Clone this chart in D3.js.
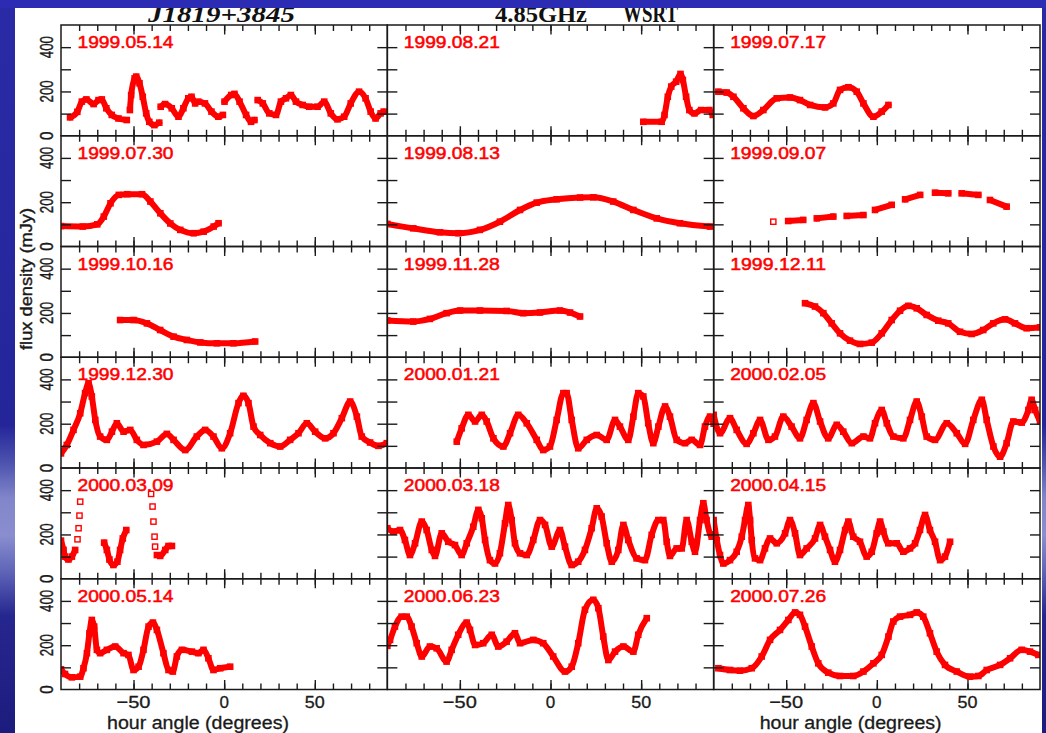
<!DOCTYPE html>
<html>
<head>
<meta charset="utf-8">
<script src="https://cdn.jsdelivr.net/npm/d3@7"></script>
<style>
  html, body { margin: 0; padding: 0; overflow: hidden; background: #fff; }
  svg { display: block; }
</style>
</head>
<body>
<svg id="chart" width="1046" height="733"></svg>
<script>
// J1819+3845 light curves at 4.85 GHz (WSRT): flux density vs hour angle.
// Each observing day is a list of segments, each segment a list of [hourAngle, fluxDensity_mJy].

const d990514 = [
  [[-85,83],[-81,108],[-78.5,154],[-76,164],[-72,143],[-69.3,161],[-67.5,164],[-65,124],[-62,94],[-58.3,78],[-53.7,71]],
  [[-52,116],[-51.3,184],[-49.4,259],[-48.5,267],[-46.7,237],[-44.9,176],[-43,101],[-41.3,63],[-38.5,48],[-35.8,59]],
  [[-35,131],[-32.6,143],[-28.9,124],[-25.2,86],[-22.5,124],[-19.8,169],[-18,176],[-16,146],[-14.3,154],[-10.6,146],[-7,109],[-3.2,86],[-0.7,94]],
  [[0.2,154],[3.9,184],[5.7,189],[8.5,154],[12.1,94],[14.8,63],[16.7,71]],
  [[18.5,161],[21.3,146],[24.9,101],[28.6,94],[31.3,154],[34.1,169],[36.8,184],[39.6,154],[43.3,139],[46.9,131],[51.5,131],[55.2,154],[58.8,101],[62.5,74],[66.2,86],[69.8,146],[74.4,199],[78,169],[80.8,109],[83.5,78],[86.3,101],[88,109]]
];
const d990821 = [
  [[51.2,63],[61.3,63],[62.9,94],[64.7,176],[66.6,222],[69.3,244],[71.7,279],[73,252],[74.8,176],[76.6,116],[79.4,101],[83.1,116],[87.6,116],[89.5,94]]
];
const d990717 = [
  [[-87.4,199],[-82.8,195],[-79.1,176],[-73.6,124],[-68.1,89],[-62.6,116],[-55.2,169],[-47.9,173],[-42.4,161],[-36.8,139],[-28.6,128],[-24,146],[-20.3,207],[-15.7,219],[-11.1,199],[-7.4,146],[-1.9,86],[2.7,109],[6.4,139]]
];
const d990730 = [
  [[-90,92],[-78,90],[-70,100],[-66.4,135],[-62.7,195],[-58.1,233],[-53.5,236],[-45.3,236],[-40.7,203],[-35.2,150],[-29.7,104],[-24.2,75],[-16.8,60],[-11.3,67],[-5.8,90],[-3.1,105]]
];
const d990813 = [
  [[-90,102],[-75.7,82],[-61,64],[-50.8,60],[-38.9,75],[-27.9,112],[-16.8,165],[-7.6,198],[3.4,213],[16.3,221],[23.6,222],[34.6,203],[45.7,165],[58.6,127],[71.4,105],[88,90]]
];
const d990907 = [
  [[-57.1,112]],
  [[-48.9,115],[-40.6,120]],
  [[-33.1,127],[-24,135]],
  [[-16.6,138],[-7.4,142]],
  [[-1,165],[8.2,188]],
  [[15.6,213],[23.9,233]],
  [[32.1,243],[39.4,240]],
  [[46.8,240],[56,233]],
  [[62.4,210],[71.6,180]]
];
const d991016 = [
  [[-57.4,168],[-50,168],[-42.6,153],[-35.3,123],[-27.9,93],[-20.6,78],[-13.2,67],[-4,63],[5.1,63],[17.1,71]]
];
const d991128 = [
  [[-90,166],[-75.7,161],[-66.5,173],[-57.3,199],[-49.9,211],[-38.9,211],[-24.2,209],[-15,199],[-5.8,202],[5.2,211],[10.8,202],[16.3,184]]
];
const d991211 = [
  [[-39.6,244],[-34.1,229],[-29.5,199],[-24.9,153],[-20.3,108],[-14.8,75],[-9.3,60],[-2.8,66],[2.7,108],[8.2,168],[12.8,210],[17.4,232],[22,221],[27.5,191],[33.9,165],[39.4,153],[45.9,115],[52.3,105],[58.7,123],[64.2,153],[70.7,171],[76.2,153],[82.7,131],[90,135]]
];
const d991230 = [
  [[-90,66],[-86.8,104],[-83.1,172],[-79.4,247],[-76.7,338],[-74.8,383],[-73,323],[-71.1,217],[-68.4,142],[-64.7,127],[-61.9,164],[-59.2,202],[-55.5,164],[-51.8,172],[-48.2,127],[-44.5,104],[-37.1,119],[-31.6,154],[-27.9,127],[-21.5,81],[-15.1,142],[-10.5,172],[-5.9,142],[-1.3,89],[3.3,157],[7.9,293],[10.6,326],[13.4,293],[16.2,187],[19.9,149],[25.4,112],[30.9,97],[36.4,127],[41,157],[45.6,202],[50.2,164],[55.7,134],[60.3,157],[64.9,225],[69.5,300],[73.2,232],[75.9,142],[80.5,115],[85.1,100],[89.7,112]]
];
const d000121 = [
  [[-51.7,119],[-49,179],[-45.3,240],[-41.6,210],[-37.9,240],[-35.2,210],[-31.5,134],[-26,97],[-22.3,157],[-17.8,240],[-13.1,202],[-7.6,127],[-4,81],[-0.3,97],[3.4,217],[7.1,338],[8.9,338],[11.7,217],[15.3,89],[20,127],[25.5,149],[31,127],[35.6,217],[38.3,187],[42.9,127],[45.7,232],[48.4,338],[51.2,323],[53.9,202],[56.7,112],[59.5,187],[63.2,278],[65.9,232],[69.6,127],[74.2,112],[77.9,127],[82.5,104],[85.2,187],[88,232],[90,200]]
];
const d000205 = [
  [[-90,240],[-86.5,157],[-81,225],[-77.3,172],[-71.8,109],[-68.1,157],[-64.4,217],[-59.8,127],[-56.2,142],[-51.6,232],[-47,187],[-42.4,134],[-38.7,217],[-35,293],[-31.3,210],[-26.8,134],[-22.1,195],[-18.5,164],[-13.8,112],[-7.4,142],[-3.8,134],[-1,202],[2.7,262],[5.5,202],[9.1,142],[14.6,134],[18.3,217],[22,300],[24.8,232],[27.5,142],[32.1,127],[38.6,202],[44.1,157],[48.7,109],[53.2,217],[57.9,308],[60.6,217],[64.3,97],[68,51],[71.6,112],[75.3,210],[79.9,205],[83.6,262],[85.4,308],[87.3,262],[90,210]]
];
const d000309 = [
  [[-90,172],[-88.6,130],[-87.8,100],[-85.9,87],[-84,100],[-82.2,130]],
  [[-80.9,178]],[[-80.3,228]],[[-79.8,285]],[[-79.4,348]],
  [[-66.2,163],[-64.7,130],[-63.3,87],[-61.1,62],[-58.9,77],[-57.4,130],[-55.9,182],[-54,220]],
  [[-40.3,383]],[[-39.5,326]],[[-39,258]],[[-38.4,190]],[[-38.1,145]],
  [[-37.1,107],[-35.3,103],[-32.5,130],[-30.7,148],[-28.8,148]]
];
const d000318 = [
  [[-90,228],[-86.7,213],[-83,220],[-80.3,175],[-77.5,107],[-74.7,160],[-71,258],[-68.3,220],[-65.5,130],[-63.7,103],[-60,205],[-56.4,167],[-52.7,152],[-49,107],[-46.2,160],[-42.6,235],[-39.8,311],[-37.9,273],[-36.1,175],[-33.4,84],[-30.6,69],[-27.9,115],[-25.1,250],[-23.3,333],[-21.4,265],[-19.6,160],[-16.8,115],[-13.1,107],[-9.5,175],[-5.8,265],[-3,243],[0.7,145],[5.2,220],[8,145],[11.7,62],[15.3,77],[19,130],[22.7,228],[25.5,318],[28.2,281],[31,160],[33.8,77],[37.4,130],[40.2,243],[42.9,175],[47.5,92],[52.1,84],[55.8,198],[59.5,265],[62.2,265],[64.1,167],[65.9,103],[69.6,137],[72.4,137],[75.1,265],[77.9,167],[79.7,122],[82.5,265],[84.3,341],[86.1,265],[88.9,190],[90,200]]
];
const d000415 = [
  [[-90,265],[-88.3,175],[-86.5,107],[-84.7,69],[-81,84],[-77.3,122],[-74.5,190],[-72.7,265],[-70.9,333],[-69.9,265],[-69,175],[-67.2,92],[-64.4,84],[-61.7,137],[-58.9,182],[-55.2,160],[-50.6,205],[-47.9,265],[-45.1,205],[-42.4,107],[-38.7,137],[-34.1,182],[-31.3,243],[-28.6,190],[-25.8,130],[-23.1,77],[-20.3,130],[-17.5,220],[-15.7,258],[-13,190],[-9.3,167],[-5.6,100],[-2.8,122],[-0.1,205],[1.8,258],[3.6,213],[6.3,160],[11,160],[14.6,122],[18.3,137],[21.1,160],[23.8,220],[26.6,288],[29.3,220],[32.1,167],[34.9,84],[37.6,100],[40.4,167]]
];
const d000514 = [
  [[-90,91],[-87.8,70],[-84,55],[-79.4,58],[-77.6,96],[-75.7,164],[-74.3,254],[-73,314],[-71.7,284],[-70.2,179],[-68.4,164],[-64.7,179],[-60.1,194],[-55.5,164],[-52.8,156],[-50,88],[-47.2,103],[-44.5,179],[-41.7,284],[-39.3,302],[-37.1,269],[-33.5,164],[-30.7,88],[-28.3,81],[-26.1,149],[-23.3,179],[-17.8,171],[-14.2,164],[-11.4,179],[-8.7,141],[-5.9,88],[-2.2,96],[3.3,103]]
];
const d000623 = [
  [[-90,197],[-88.5,224],[-85.8,284],[-82.1,329],[-79.3,329],[-76.6,284],[-73.8,209],[-71,149],[-66.5,194],[-62.8,186],[-57.3,126],[-54.5,179],[-50.9,247],[-46.2,302],[-44.4,269],[-41.6,201],[-37.1,209],[-32.4,247],[-28.8,194],[-24.2,216],[-19.6,254],[-16.8,209],[-9.5,224],[-4,209],[1.5,149],[8,81],[11.7,103],[15.3,209],[19,360],[23.6,405],[26.4,367],[29.1,239],[31.9,133],[35.6,171],[40.2,194],[45.7,171],[48.4,247],[53.1,322]]
];
const d000726 = [
  [[-87.4,96],[-81,88],[-75.5,85],[-69,96],[-63.5,149],[-58.9,224],[-53.4,269],[-48.8,314],[-45.1,348],[-42.4,337],[-39.6,284],[-35.9,194],[-32.3,118],[-26.8,76],[-20.3,61],[-13,61],[-7.4,81],[-1.9,118],[2.7,156],[6.4,239],[9.1,307],[12.8,329],[18.3,337],[22,348],[25.6,329],[29.3,254],[33,171],[37.6,111],[44.1,81],[51.4,58],[56,61],[60.6,88],[68,111],[73.5,141],[79.9,179],[84.5,171],[89.1,156]]
];

// Panel order: row by row, three columns per row
const dateLabels = [
  "1999.05.14", "1999.08.21", "1999.07.17",
  "1999.07.30", "1999.08.13", "1999.09.07",
  "1999.10.16", "1999.11.28", "1999.12.11",
  "1999.12.30", "2000.01.21", "2000.02.05",
  "2000.03.09", "2000.03.18", "2000.04.15",
  "2000.05.14", "2000.06.23", "2000.07.26"
];
const panelSeries = [
  d990514, d990821, d990717,
  d990730, d990813, d990907,
  d991016, d991128, d991211,
  d991230, d000121, d000205,
  d000309, d000318, d000415,
  d000514, d000623, d000726
];

const xDomain = [-90, 90];
const yDomain = [0, 500];
const xMinorTicks = [-80, -70, -60, -50, -40, -30, -20, -10, 0, 10, 20, 30, 40, 50, 60, 70, 80];
const xMajorTicks = [-50, 0, 50];
const xTickLabels = ["\u221250", "0", "50"];
const yTicks = [100, 200, 300, 400];
const yTickLabels = [0, 200, 400];

const titleLeft = "J1819+3845";
const titleFreq = "4.85GHz";
const titleTelescope = "WSRT";
const xTitle = "hour angle (degrees)";
const yTitle = "flux density (mJy)";

// ---------------------------------------------------------------- layout
const W = 1046, H = 733;
const plotL = 61, plotR = 1040, plotT = 25, plotB = 689.5;
const nCols = 3, nRows = 6;
const colW = (plotR - plotL) / nCols;
const rowH = (plotB - plotT) / nRows;
const RED = "#ff0000";
const INK = "#1a1a1a";
const sans = "'Liberation Sans', Arial, sans-serif";
const serif = "'Liberation Serif', 'DejaVu Serif', serif";

const svg = d3.select("#chart");
const defs = svg.append("defs");

// slide background: blue with a pale band on the side margins
const bg = defs.append("linearGradient").attr("id", "bgGrad")
  .attr("gradientUnits", "userSpaceOnUse")
  .attr("x1", 0).attr("y1", 0).attr("x2", 0).attr("y2", H);
[[0, "#2a2aa6"], [0.58, "#25259a"], [0.63, "#4c51ae"], [0.68, "#8186ca"], [0.73, "#8a8ecf"],
 [0.78, "#5f64b8"], [0.84, "#26268f"], [1, "#1c1c7e"]]
  .forEach(([o, c]) => bg.append("stop").attr("offset", o).attr("stop-color", c));

svg.append("rect").attr("width", W).attr("height", H).attr("fill", "url(#bgGrad)");
svg.append("rect").attr("x", 15).attr("y", 8).attr("width", 1027).attr("height", H - 8).attr("fill", "#ffffff");

// header text (its top is hidden under the blue band)
svg.append("text").attr("x", 148).attr("y", 21.5)
  .attr("font-family", serif).attr("font-style", "italic").attr("font-weight", "bold")
  .attr("font-size", 24).attr("fill", "#111")
  .attr("textLength", 147).attr("lengthAdjust", "spacingAndGlyphs").text(titleLeft);
svg.append("text").attr("x", 495).attr("y", 21.5)
  .attr("font-family", serif).attr("font-weight", "bold")
  .attr("font-size", 24).attr("fill", "#111")
  .attr("textLength", 92).attr("lengthAdjust", "spacingAndGlyphs").text(titleFreq);
svg.append("text").attr("x", 623).attr("y", 21.5)
  .attr("font-family", serif).attr("font-weight", "bold")
  .attr("font-size", 25).attr("fill", "#111")
  .attr("textLength", 55).attr("lengthAdjust", "spacingAndGlyphs").text(titleTelescope);

svg.append("rect").attr("x", 0).attr("y", 0).attr("width", W).attr("height", 8).attr("fill", "#2b2bb3");

// ---------------------------------------------------------------- panels
const lineGen = d3.line().curve(d3.curveMonotoneX);

function cleanAxis(g) {
  g.select(".domain").remove();
  g.selectAll("text").remove();
  g.selectAll("line").attr("stroke", INK).attr("stroke-width", 1.4);
}

panelSeries.forEach((segs, i) => {
  const col = i % nCols, row = Math.floor(i / nCols);
  const x0 = plotL + col * colW, y0 = plotT + row * rowH;
  const x = d3.scaleLinear().domain(xDomain).range([x0, x0 + colW]);
  const y = d3.scaleLinear().domain(yDomain).range([y0 + rowH, y0]);

  const clipId = "clip" + i;
  defs.append("clipPath").attr("id", clipId).append("rect")
    .attr("x", x0).attr("y", y0).attr("width", colW).attr("height", rowH);

  const g = svg.append("g");
  const dataG = g.append("g").attr("clip-path", `url(#${clipId})`);

  lineGen.x(d => x(d[0])).y(d => y(d[1]));
  segs.filter(s => s.length > 1).forEach(s => {
    dataG.append("path").attr("d", lineGen(s))
      .attr("fill", "none").attr("stroke", RED).attr("stroke-width", 6)
      .attr("stroke-linejoin", "round").attr("stroke-linecap", "round");
  });
  // individual samples as open squares
  const pts = segs.flat();
  dataG.selectAll("rect.pt").data(pts).join("rect").attr("class", "pt")
    .attr("x", d => x(d[0]) - 2.6).attr("y", d => y(d[1]) - 2.6)
    .attr("width", 5.2).attr("height", 5.2)
    .attr("fill", "none").attr("stroke", RED).attr("stroke-width", 1.4);

  // date label
  g.append("text").attr("x", x0 + 16.5).attr("y", y0 + 23)
    .attr("font-family", sans).attr("font-size", 16).attr("fill", RED)
    .attr("stroke", RED).attr("stroke-width", 0.5)
    .attr("textLength", 96).attr("lengthAdjust", "spacingAndGlyphs")
    .text(dateLabels[i]);

  // inward ticks on all four sides
  g.append("g").attr("transform", `translate(0,${y0 + rowH})`)
    .call(d3.axisBottom(x).tickValues(xMinorTicks).tickSize(-6).tickFormat("")).call(cleanAxis);
  g.append("g").attr("transform", `translate(0,${y0 + rowH})`)
    .call(d3.axisBottom(x).tickValues(xMajorTicks).tickSize(-9.5).tickFormat("")).call(cleanAxis);
  g.append("g").attr("transform", `translate(0,${y0})`)
    .call(d3.axisTop(x).tickValues(xMinorTicks).tickSize(-6).tickFormat("")).call(cleanAxis);
  g.append("g").attr("transform", `translate(0,${y0})`)
    .call(d3.axisTop(x).tickValues(xMajorTicks).tickSize(-9.5).tickFormat("")).call(cleanAxis);
  g.append("g").attr("transform", `translate(${x0},0)`)
    .call(d3.axisLeft(y).tickValues(yTicks).tickSize(-10).tickFormat("")).call(cleanAxis);
  g.append("g").attr("transform", `translate(${x0 + colW},0)`)
    .call(d3.axisRight(y).tickValues(yTicks).tickSize(-10).tickFormat("")).call(cleanAxis);

  // frame
  g.append("rect").attr("x", x0).attr("y", y0).attr("width", colW).attr("height", rowH)
    .attr("fill", "none").attr("stroke", INK).attr("stroke-width", 1.5);

  // y tick labels (first column only), rotated
  if (col === 0) {
    yTickLabels.forEach(v => {
      const t = g.append("text")
        .attr("transform", `translate(52.5,${y(v)}) rotate(-90)`)
        .attr("text-anchor", "middle")
        .attr("font-family", sans).attr("font-size", 18).attr("fill", INK)
        .attr("stroke", INK).attr("stroke-width", 0.4)
        .text(v);
      if (String(v).length > 1) t.attr("textLength", 22).attr("lengthAdjust", "spacingAndGlyphs");
      else t.attr("textLength", 8.5).attr("lengthAdjust", "spacingAndGlyphs");
    });
  }
  // x tick labels (bottom row only)
  if (row === nRows - 1) {
    xMajorTicks.forEach((v, k) => {
      const t = g.append("text").attr("x", x(v)).attr("y", 708)
        .attr("text-anchor", "middle")
        .attr("font-family", sans).attr("font-size", 17).attr("fill", INK)
        .attr("stroke", INK).attr("stroke-width", 0.3)
        .text(xTickLabels[k]);
      if (xTickLabels[k].length === 3) t.attr("textLength", 34).attr("lengthAdjust", "spacingAndGlyphs");
      if (xTickLabels[k].length === 2) t.attr("textLength", 20).attr("lengthAdjust", "spacingAndGlyphs");
    });
    if (col !== 1) {
      g.append("text").attr("x", x0 + 46).attr("y", 729)
        .attr("font-family", sans).attr("font-size", 18).attr("fill", INK)
        .attr("stroke", INK).attr("stroke-width", 0.3)
        .attr("textLength", 182).attr("lengthAdjust", "spacingAndGlyphs")
        .text(xTitle);
    }
  }
});

// y-axis title
svg.append("text")
  .attr("transform", "translate(31.5,279) rotate(-90)")
  .attr("text-anchor", "middle")
  .attr("font-family", sans).attr("font-size", 17).attr("fill", INK)
  .attr("stroke", INK).attr("stroke-width", 0.4)
  .attr("textLength", 142).attr("lengthAdjust", "spacingAndGlyphs")
  .text(yTitle);
</script>
</body>
</html>
